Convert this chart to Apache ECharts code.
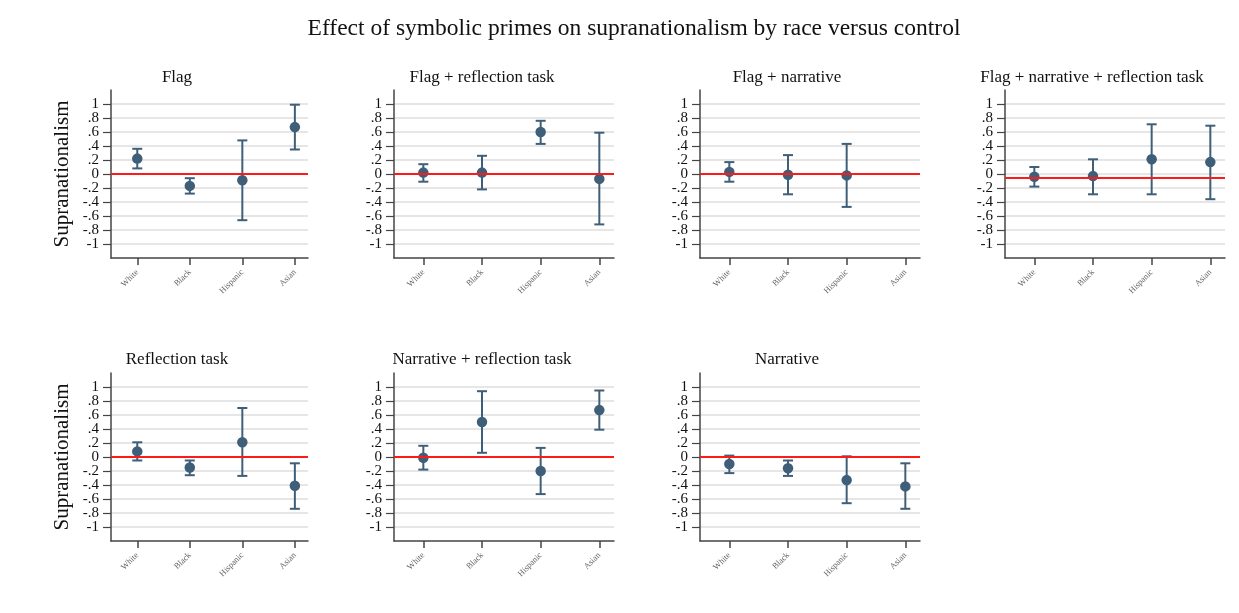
<!DOCTYPE html>
<html>
<head>
<meta charset="utf-8">
<script src="https://cdn.jsdelivr.net/npm/echarts@6/dist/echarts.min.js"></script>
<style>
html,body{margin:0;padding:0;background:#fff;}
#main{width:1239px;height:613px;}
</style>
</head>
<body>
<div id="main"></div>
<script>
// ---------- data ----------
const mainTitle = 'Effect of symbolic primes on supranationalism by race versus control';
const categories = ['White', 'Black', 'Hispanic', 'Asian'];
const yTicks = [-1, -0.8, -0.6, -0.4, -0.2, 0, 0.2, 0.4, 0.6, 0.8, 1];
const panelTitles = ['Flag', 'Flag + reflection task', 'Flag + narrative', 'Flag + narrative + reflection task',
                     'Reflection task', 'Narrative + reflection task', 'Narrative'];
// point estimates per panel (White, Black, Hispanic, Asian)
const estFlag        = [0.22, -0.17, -0.09, 0.67];
const estFlagRefl    = [0.02, 0.02, 0.60, -0.07];
const estFlagNarr    = [0.03, -0.01, -0.02, null];
const estFlagNarrRefl= [-0.04, -0.03, 0.21, 0.17];
const estRefl        = [0.08, -0.15, 0.21, -0.41];
const estNarrRefl    = [-0.01, 0.50, -0.20, 0.67];
const estNarr        = [-0.10, -0.16, -0.33, -0.42];
// lower confidence bounds
const loFlag         = [0.08, -0.28, -0.66, 0.35];
const loFlagRefl     = [-0.11, -0.22, 0.43, -0.72];
const loFlagNarr     = [-0.11, -0.29, -0.47, null];
const loFlagNarrRefl = [-0.18, -0.29, -0.29, -0.36];
const loRefl         = [-0.05, -0.26, -0.27, -0.74];
const loNarrRefl     = [-0.18, 0.06, -0.53, 0.39];
const loNarr         = [-0.23, -0.27, -0.66, -0.74];
// upper confidence bounds
const hiFlag         = [0.36, -0.06, 0.48, 0.99];
const hiFlagRefl     = [0.14, 0.26, 0.76, 0.59];
const hiFlagNarr     = [0.17, 0.27, 0.43, null];
const hiFlagNarrRefl = [0.10, 0.21, 0.71, 0.69];
const hiRefl         = [0.21, -0.05, 0.70, -0.09];
const hiNarrRefl     = [0.16, 0.94, 0.13, 0.95];
const hiNarr         = [0.02, -0.05, 0.01, -0.09];
// reference line per panel
const refLines = [0, 0, 0, -0.055, 0, 0, 0];

const estimates = [estFlag, estFlagRefl, estFlagNarr, estFlagNarrRefl, estRefl, estNarrRefl, estNarr];
const lowers = [loFlag, loFlagRefl, loFlagNarr, loFlagNarrRefl, loRefl, loNarrRefl, loNarr];
const uppers = [hiFlag, hiFlagRefl, hiFlagNarr, hiFlagNarrRefl, hiRefl, hiNarrRefl, hiNarr];

// ---------- layout ----------
const FONT = '"Liberation Serif", "DejaVu Serif", serif';
const MARK = '#3f5f79';
const colLeft = [111, 394, 700, 1005];
const colWidth = [197, 220, 220, 220];
const rowTop = [90, 373];
const rowHeight = 168;
const titleX = [177, 482, 787, 1092];
const titleY = [78, 360];

const grids = [], xAxes = [], yAxes = [], series = [], titles = [];
titles.push({
  text: mainTitle, left: 634, top: 17, textAlign: 'center', padding: 0,
  textStyle: {fontFamily: FONT, fontSize: 23.5, fontWeight: 'normal', color: '#111'}
});

function fmtY(v) {
  if (Math.abs(v) > 1.05) return '';
  if (Math.abs(v) < 1e-9) return '0';
  let s = (Math.round(v * 10) / 10).toString();
  s = s.replace('0.', '.');
  return s;
}

for (let p = 0; p < 7; p++) {
  const row = p < 4 ? 0 : 1;
  const col = p < 4 ? p : p - 4;
  grids.push({left: colLeft[col], top: rowTop[row], width: colWidth[col], height: rowHeight, containLabel: false});
  titles.push({
    text: panelTitles[p], left: titleX[col], top: titleY[row] - 9, textAlign: 'center', padding: 0,
    textStyle: {fontFamily: FONT, fontSize: 17, fontWeight: 'normal', color: '#111'}
  });
  xAxes.push({
    gridIndex: p, type: 'value', min: 0.5, max: 4.25,
    axisLine: {show: true, onZero: false, lineStyle: {color: '#444', width: 1.5}},
    axisTick: {show: true, length: 7, customValues: [1, 2, 3, 4], lineStyle: {color: '#444', width: 1.5}},
    axisLabel: {
      customValues: [1, 2, 3, 4], rotate: 45, fontSize: 8.5, fontFamily: FONT, color: '#666', margin: 13,
      showMinLabel: true, showMaxLabel: true, hideOverlap: false,
      formatter: v => categories[Math.round(v) - 1]
    },
    splitLine: {show: false}
  });
  yAxes.push({
    gridIndex: p, type: 'value', min: -1.2, max: 1.2, interval: 0.2,
    name: col === 0 ? 'Supranationalism' : '',
    nameLocation: 'middle', nameRotate: 90, nameGap: 38,
    nameTextStyle: {fontFamily: FONT, fontSize: 21, color: '#111'},
    axisLine: {show: true, onZero: false, lineStyle: {color: '#444', width: 1.5}},
    axisTick: {show: true, length: 8, customValues: yTicks, lineStyle: {color: '#444', width: 1.2}},
    axisLabel: {
      fontSize: 15, fontFamily: FONT, color: '#111', margin: 12,
      showMinLabel: false, showMaxLabel: false, hideOverlap: false, formatter: fmtY
    },
    splitLine: {show: true, lineStyle: {color: '#e6e6e6', width: 2}}
  });
  const est = estimates[p], lo = lowers[p], hi = uppers[p];
  const barData = [], ptData = [];
  for (let i = 0; i < categories.length; i++) {
    if (est[i] === null) continue;
    barData.push([i + 1, lo[i], hi[i]]);
    ptData.push([i + 1, est[i]]);
  }
  series.push({
    type: 'custom', xAxisIndex: p, yAxisIndex: p, silent: true,
    data: barData,
    encode: {x: 0, y: [1, 2]},
    renderItem: function (params, api) {
      const x = api.value(0);
      const a = api.coord([x, api.value(1)]);
      const b = api.coord([x, api.value(2)]);
      const hw = 5;
      const st = {stroke: MARK, lineWidth: 2, fill: null};
      return {
        type: 'group',
        children: [
          {type: 'line', shape: {x1: a[0], y1: a[1], x2: b[0], y2: b[1]}, style: st},
          {type: 'line', shape: {x1: a[0] - hw, y1: a[1], x2: a[0] + hw, y2: a[1]}, style: st},
          {type: 'line', shape: {x1: b[0] - hw, y1: b[1], x2: b[0] + hw, y2: b[1]}, style: st}
        ]
      };
    },
    markLine: {
      silent: true, symbol: 'none', label: {show: false},
      lineStyle: {color: '#ff1a1a', width: 2, type: 'solid'},
      data: [{yAxis: refLines[p]}],
      animation: false
    },
    z: 3
  });
  series.push({
    type: 'scatter', xAxisIndex: p, yAxisIndex: p, silent: true,
    data: ptData, symbol: 'circle', symbolSize: 10.5,
    itemStyle: {color: MARK, opacity: 1}, z: 4
  });
}

const chart = echarts.init(document.getElementById('main'), null, {renderer: 'canvas'});
chart.setOption({
  animation: false,
  backgroundColor: '#ffffff',
  title: titles,
  grid: grids,
  xAxis: xAxes,
  yAxis: yAxes,
  series: series
});
</script>
</body>
</html>
